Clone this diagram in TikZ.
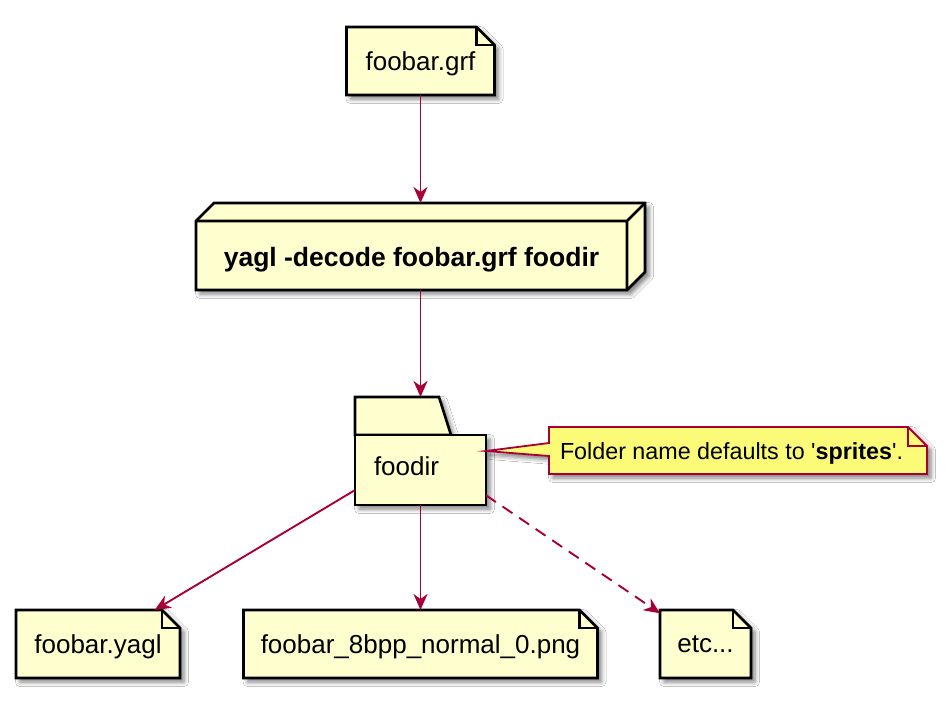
\documentclass[tikz,border=0pt]{standalone}
\usepackage{fontspec}
\setmainfont{Liberation Sans}
\usetikzlibrary{arrows.meta,shadows.blur,backgrounds}
\definecolor{boxfill}{HTML}{FEFECE}
\definecolor{notefill}{HTML}{FBFB77}
\definecolor{plred}{HTML}{A80036}
\begin{document}
\begin{tikzpicture}[x=1pt,y=-1pt,
  hold/.style={inner sep=0pt, outer sep=0pt, draw=none, text depth=0pt, font=\fontsize{26}{31}\selectfont},
  txt/.style={inner sep=0pt, outer sep=0pt, font=\fontsize{26}{31}\selectfont},
  notetxt/.style={inner sep=0pt, outer sep=0pt, text depth=0pt, font=\fontsize{23.3}{28}\selectfont},
  myshadow/.style={blur shadow={shadow xshift=4pt, shadow yshift=-4pt, shadow blur radius=4.5pt, shadow opacity=50}},
  shapeline/.style={draw=black, line width=2.6pt, fill=boxfill, line join=miter, myshadow},
  foldline/.style={draw=black, line width=2.6pt},
  noteline/.style={draw=plred, line width=1.8pt, fill=notefill, line join=miter, myshadow},
  notefold/.style={draw=plred, line width=1.8pt},
  arr/.style={draw=plred, line width=1.9pt, -{Stealth[length=16pt,width=14pt,inset=5pt]}},
  dasharr/.style={arr, dash pattern=on 12pt off 8pt}
]
\useasboundingbox (0,0) rectangle (949,706);

% nodes
\node[hold, minimum width=148pt, minimum height=68pt] (grf) at (420.5,61) {foobar.grf};
\node[hold, minimum width=449pt, minimum height=87pt] (decode) at (420.5,246.5) {};
\node[txt, text depth=0pt, font=\fontsize{26.5}{31}\selectfont\bfseries] (decodetxt) at ([xshift=-9pt,yshift=-10.5pt]decode.center) {yagl -decode foobar.grf foodir};
\node[hold, minimum width=131pt, minimum height=108pt] (folder) at (420.5,451) {};
\node[txt, anchor=west] (foodirtxt) at ([xshift=19pt,yshift=-15pt]folder.west) {foodir};
\node[hold, minimum width=378pt, minimum height=47pt] (note) at (738,450.5) {};
\node[notetxt, anchor=west] (notetxt) at ([xshift=11pt,yshift=-0.5pt]note.west) {Folder name defaults to \textquotesingle\textbf{sprites}\textquotesingle.};
\node[hold, minimum width=164pt, minimum height=68pt] (yagl) at (98,644) {foobar.yagl};
\node[hold, minimum width=354pt, minimum height=68pt] (png) at (420.5,644) {foobar\_8bpp\_normal\_0.png};
\node[hold, minimum width=91pt, minimum height=68pt] (etc) at (705.5,644) {etc...};

\begin{scope}[on background layer]
  \fill[white] (0,0) rectangle (949,706);
  % file shapes
  \foreach \n in {grf,yagl,png,etc}{
    \path[shapeline] (\n.north west) -- ([xshift=-18pt]\n.north east) -- ([yshift=-18pt]\n.north east) -- (\n.south east) -- (\n.south west) -- cycle;
    \draw[foldline] ([xshift=-18pt]\n.north east) |- ([yshift=-18pt]\n.north east);
  }
  % node (3D box)
  \path[shapeline] (decode.south west) -- ([yshift=-18pt]decode.north west) -- ([xshift=18pt]decode.north west) -- (decode.north east) -- ([yshift=18pt]decode.south east) -- ([xshift=-18pt]decode.south east) -- cycle;
  \draw[foldline] ([yshift=-18pt]decode.north west) -- ([xshift=-18pt,yshift=-18pt]decode.north east) -- (decode.north east)
    ([xshift=-18pt,yshift=-18pt]decode.north east) -- ([xshift=-18pt]decode.south east);
  % folder
  \coordinate (tabbl) at ([yshift=-38pt]folder.north west);
  \path[shapeline] (folder.north west) -- ++(84,0) -- ++(12,38) -- (tabbl) -- cycle;
  \path[shapeline] (tabbl) rectangle (folder.south east);
  % note with wedge
  \path[noteline] (note.north west) -- ([xshift=-19pt]note.north east) -- ([yshift=-19pt]note.north east) -- (note.south east) -- (note.south west) -- ([yshift=-5.5pt]note.west) -- (folder.east) -- ([yshift=7.5pt]note.west) -- cycle;
  \draw[notefold] ([xshift=-19pt]note.north east) |- ([yshift=-19pt]note.north east);
\end{scope}

% connectors
\draw[arr] (grf) -- (decode);
\draw[arr] (decode) -- (folder);
\draw[arr] (folder) -- (yagl);
\draw[arr] (folder) -- (png);
\draw[dasharr] (folder) -- (etc);
\end{tikzpicture}
\end{document}
